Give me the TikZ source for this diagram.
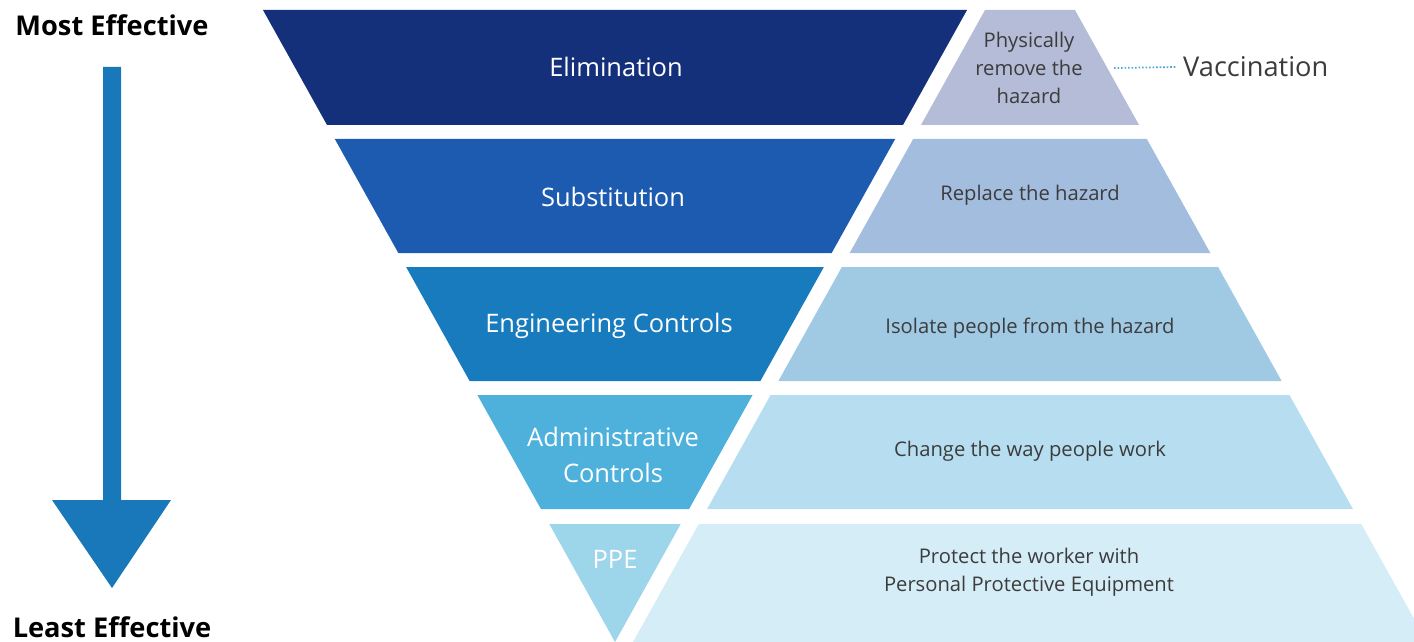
\documentclass[tikz,border=0pt]{standalone}
\usepackage{fontspec}
\setmainfont{Open Sans}
\usetikzlibrary{positioning}

\definecolor{elim}{HTML}{15307A}
\definecolor{subs}{HTML}{1C5BB0}
\definecolor{engi}{HTML}{177BBD}
\definecolor{admi}{HTML}{4DB1DC}
\definecolor{ppec}{HTML}{9DD5EB}
\definecolor{elimr}{HTML}{B4BCD8}
\definecolor{subsr}{HTML}{A3BDDF}
\definecolor{engir}{HTML}{A0C9E3}
\definecolor{admir}{HTML}{B6DEF0}
\definecolor{ppecr}{HTML}{D5EDF7}
\definecolor{arrowblue}{HTML}{1878B9}
\definecolor{dotblue}{HTML}{4BA8D8}
\definecolor{notegray}{HTML}{3C3C3C}

\begin{document}
\begin{tikzpicture}[
  x=0.02cm, y=-0.02cm,
  level/.style={
     font=\fontsize{14.5}{20}\selectfont,
     text=white,
     align=center,
  },
  note/.style={
     font=\fontsize{11.5}{16}\selectfont,
     text=notegray,
     align=center,
  },
  rank/.style={
     font=\fontsize{15.5}{18}\selectfont\bfseries,
  },
]
   \clip (0,0) rectangle (1414,642);
   \useasboundingbox (0,0) rectangle (1414,642);

   % inverted triangle on the left, pyramid on the right
   \foreach \t/\b/\cl/\cr in {10/125/elim/elimr, 139/253/subs/subsr,
       267/381/engi/engir, 395/509/admi/admir, 524/642/ppec/ppecr}{
      \fill[\cl] ({615-0.557*(642-\t)},\t) -- ({615+0.557*(642-\t)},\t)
         -- ({615+0.557*(642-\b)},\b) -- ({615-0.557*(642-\b)},\b) -- cycle;
      \fill[\cr] ({633+0.557*(642-\t)},\t) -- ({1427-0.557*(642-\t)},\t)
         -- ({1427-0.557*(642-\b)},\b) -- ({633+0.557*(642-\b)},\b) -- cycle;
   }

   \node[level] (elimination) at (616,67) {Elimination};
   \node[level] (substitution) at (613,197) {Substitution};
   \node[level] (engineering) at (609,326) {Engineering Controls};
   \node[level] (administrative) at (613,455) {Administrative\\Controls};
   \node[level] (ppe) at (615,559) {PPE};

   \node[note] (remove) at (1029,68) {Physically\\remove the\\hazard};
   \node[note] (replace) at (1030,195) {Replace the hazard};
   \node[note] (isolate) at (1030,328) {Isolate people from the hazard};
   \node[note] (change) at (1030,451) {Change the way people work};
   \node[note] (protect) at (1029,572) {Protect the worker with\\Personal Protective Equipment};

   \node[font=\fontsize{15.5}{18}\selectfont, text=notegray, anchor=west] (vaccination) at (1177,67) {Vaccination};
   \coordinate (dotstart) at (1114,68);
   \draw[dotblue, line width=1pt, dash pattern=on 0.9pt off 1.1pt] (dotstart) -- (vaccination.west);

   % effectiveness arrow
   \node[rank] (most) at (112,25) {Most Effective};
   \node[rank] (least) at (112,627) {Least Effective};
   \fill[arrowblue] (103,67) -- (121,67) -- (121,500) -- (171,500) -- (112,588)
      -- (52,500) -- (103,500) -- cycle;
\end{tikzpicture}
\end{document}
